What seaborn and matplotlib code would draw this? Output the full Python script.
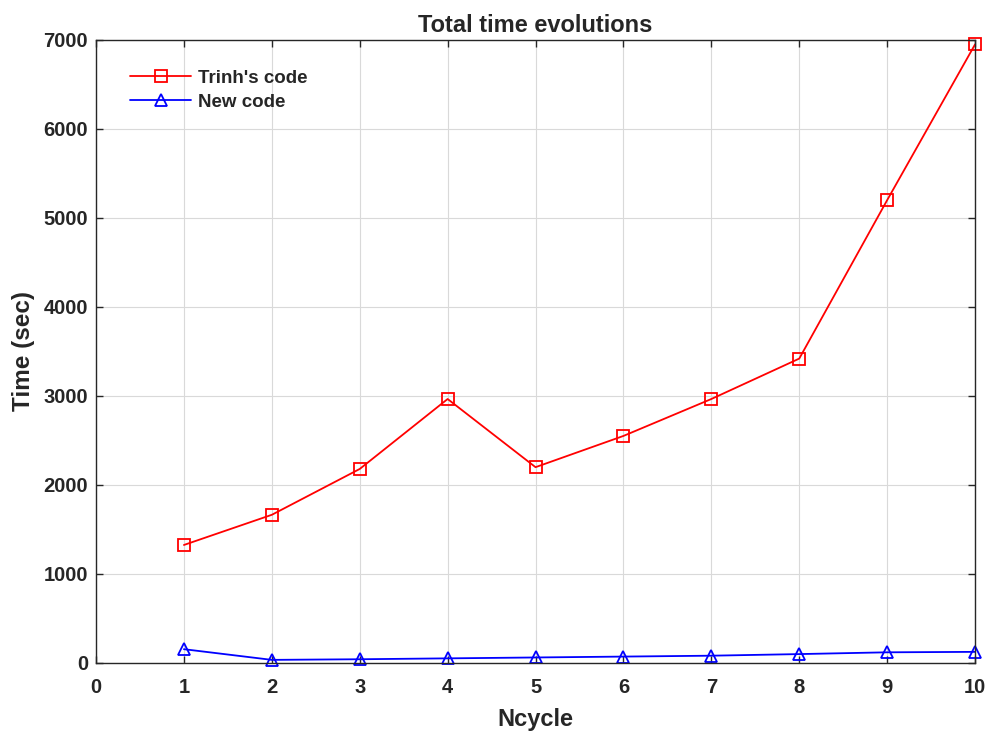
import pandas as pd
import numpy as np
import matplotlib.pyplot as plt
import seaborn as sns

ncycle = [1, 2, 3, 4, 5, 6, 7, 8, 9, 10]
trinh_time = [1326, 1665, 2180, 2966, 2200, 2551, 2966, 3420, 5200, 6950]
new_time = [155, 35, 42, 52, 62, 72, 82, 100, 120, 125]

df = pd.DataFrame({
    "Ncycle": ncycle * 2,
    "Time": trinh_time + new_time,
    "Code": ["Trinh's code"] * len(ncycle) + ["New code"] * len(ncycle),
})

sns.set_style("whitegrid")
plt.rcParams["font.family"] = ["Liberation Sans", "DejaVu Sans"]
plt.rcParams["font.weight"] = "bold"

fig = plt.figure(figsize=(9.91, 7.36), dpi=100)
ax = fig.add_axes([0.0969, 0.0992, 0.8870, 0.8465])

sns.lineplot(
    data=df, x="Ncycle", y="Time", hue="Code", style="Code",
    palette={"Trinh's code": "#ff0000", "New code": "#0000ff"},
    markers={"Trinh's code": "s", "New code": "^"},
    dashes=False, linewidth=1.3, markersize=8,
    markerfacecolor="none", markeredgewidth=1.3, ax=ax,
)
for line in ax.lines:
    line.set_markerfacecolor("none")
    line.set_markeredgecolor(line.get_color())
    line.set_clip_on(False)

ax.set_xlim(0, 10)
ax.set_ylim(0, 7000)
ax.set_xticks(range(0, 11))
ax.set_yticks(range(0, 7001, 1000))
ax.grid(True, color="#d9d9d9", linewidth=0.8)
for spine in ax.spines.values():
    spine.set_color("#262626")
    spine.set_linewidth(1.0)
ax.tick_params(direction="in", length=5, width=1.0, colors="#262626",
               labelsize=14.5, top=True, right=True, bottom=True, left=True)
ax.tick_params(axis="x", pad=10.5)
ax.tick_params(axis="y", pad=5.7)
for lab in ax.get_xticklabels() + ax.get_yticklabels():
    lab.set_fontweight("bold")

ax.set_title("Total time evolutions", fontsize=17, fontweight="bold", pad=6)
ax.set_xlabel("Ncycle", fontsize=17, fontweight="bold", color="#262626", labelpad=8.5)
ax.set_ylabel("Time (sec)", fontsize=17.5, fontweight="bold", color="#262626", labelpad=6)

leg = ax.legend(loc="upper left", bbox_to_anchor=(0.019, 0.979), frameon=False,
                prop={"size": 13.5, "weight": "bold"}, handlelength=3.3,
                handletextpad=0.35, labelspacing=0.35)
for h in leg.legend_handles:
    h.set_markerfacecolor("none")

fig.savefig("out.png", dpi=100)
